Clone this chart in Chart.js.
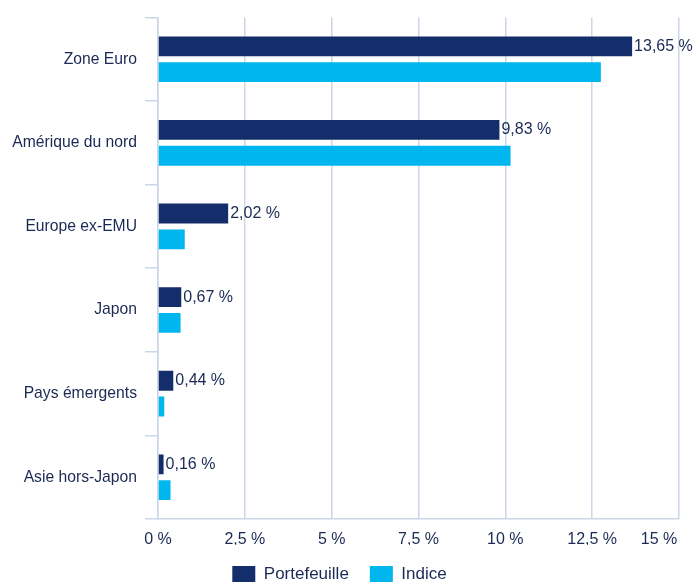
<!DOCTYPE html>
<html>
<head>
<meta charset="utf-8">
<script src="https://cdn.jsdelivr.net/npm/chart.js@4"></script>
<style>
  html, body { margin: 0; padding: 0; background: #fff; }
  #wrap { width: 694px; height: 582px; }
</style>
</head>
<body>
<div id="wrap"><canvas id="c" width="694" height="582"></canvas></div>
<script>
const categories = ['Zone Euro', 'Amérique du nord', 'Europe ex-EMU', 'Japon', 'Pays émergents', 'Asie hors-Japon'];
const portefeuille = [13.65, 9.83, 2.02, 0.67, 0.44, 0.16];
const indice = [12.75, 10.15, 0.77, 0.65, 0.18, 0.36];
const xTicks = [0, 2.5, 5, 7.5, 10, 12.5, 15];

const NAVY = '#132e6a';
const CYAN = '#00b6ee';
const TEXT = '#1b2a55';
const GRID = '#cbd6e7';
const FONT = 'Arial, "Liberation Sans", Helvetica, sans-serif';
const FS = 15.7;

const fmt = v => String(v).replace('.', ',') + ' %';

const labelPlugin = {
  id: 'valueLabels',
  afterDatasetsDraw(chart) {
    const ctx = chart.ctx;
    const meta = chart.getDatasetMeta(0);
    ctx.save();
    ctx.font = '16px ' + FONT;
    ctx.fillStyle = TEXT;
    ctx.textAlign = 'left';
    ctx.textBaseline = 'middle';
    meta.data.forEach((el, i) => {
      ctx.fillText(portefeuille[i].toFixed(2).replace('.', ',') + ' %', el.x + 2, el.y);
    });
    ctx.restore();
  }
};

new Chart(document.getElementById('c'), {
  type: 'bar',
  data: {
    labels: categories,
    datasets: [
      { label: 'Portefeuille', data: portefeuille, backgroundColor: NAVY, barPercentage: 0.77, categoryPercentage: 0.617 },
      { label: 'Indice', data: indice, backgroundColor: CYAN, barPercentage: 0.77, categoryPercentage: 0.617 }
    ]
  },
  options: {
    indexAxis: 'y',
    responsive: false,
    animation: false,
    devicePixelRatio: 1,
    layout: { padding: { top: 14, right: 15, left: 0, bottom: -11 } },
    plugins: {
      tooltip: { enabled: false },
      legend: {
        position: 'bottom',
        labels: {
          boxWidth: 23,
          boxHeight: 17,
          padding: 21,
          color: TEXT,
          font: { size: 17, family: FONT }
        }
      }
    },
    scales: {
      x: {
        min: 0,
        max: 15,
        afterBuildTicks(scale) { scale.ticks = xTicks.map(v => ({ value: v })); },
        afterFit(scale) { scale.height = 26; scale.paddingRight = 0; scale.paddingLeft = 0; },
        ticks: {
          padding: 11,
          color: TEXT,
          font: { size: 16, family: FONT, lineHeight: 1.25 },
          callback: (v, i) => fmt(v) + (i === xTicks.length - 1 ? '\u00a0'.repeat(9) : ''),
          maxRotation: 0,
          autoSkip: false
        },
        grid: { color: GRID, lineWidth: 1.5, drawTicks: false },
        border: { color: GRID, width: 1.5 }
      },
      y: {
        afterFit(scale) { scale.width = 158; },
        ticks: {
          padding: 8,
          color: TEXT,
          font: { size: FS, family: FONT }
        },
        grid: { color: GRID, lineWidth: 1.5, drawOnChartArea: false, tickLength: 13, offset: true },
        border: { color: GRID, width: 1.5 }
      }
    }
  },
  plugins: [labelPlugin]
});
</script>
</body>
</html>
